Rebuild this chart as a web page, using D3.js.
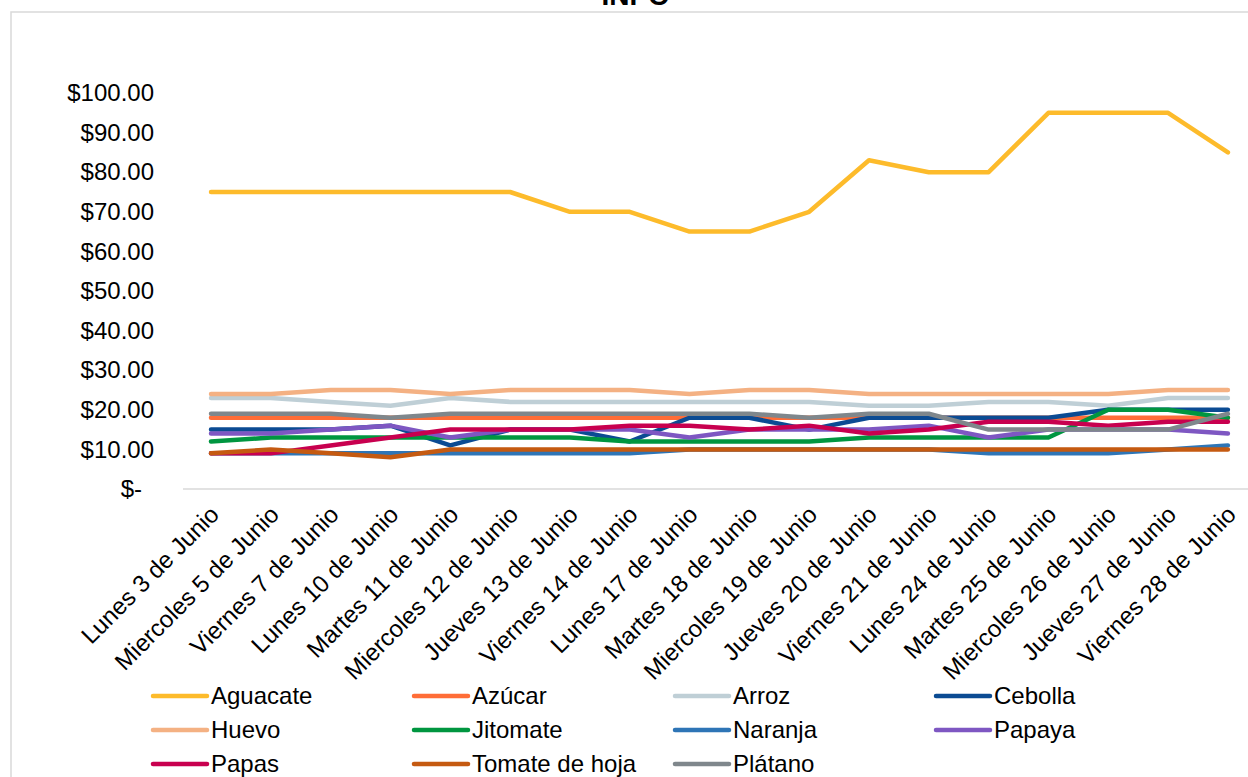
<!DOCTYPE html>
<html>
<head>
<meta charset="utf-8">
<title>INPC</title>
<script src="https://cdn.jsdelivr.net/npm/d3@7"></script>
<style>
	html, body { margin: 0; padding: 0; background: #fff; overflow: hidden; }
	svg { display: block; font-family: "Liberation Sans", Arial, sans-serif; }
</style>
</head>
<body>
<div id="chart"></div>
<script>
// categories (fechas)
var dias = ["Lunes 3 de Junio", "Miercoles 5 de Junio", "Viernes 7 de Junio", "Lunes 10 de Junio",
	"Martes 11 de Junio", "Miercoles 12 de Junio", "Jueves 13 de Junio", "Viernes 14 de Junio",
	"Lunes 17 de Junio", "Martes 18 de Junio", "Miercoles 19 de Junio", "Jueves 20 de Junio",
	"Viernes 21 de Junio", "Lunes 24 de Junio", "Martes 25 de Junio", "Miercoles 26 de Junio",
	"Jueves 27 de Junio", "Viernes 28 de Junio"];

// precios por producto
var aguacate = [75, 75, 75, 75, 75, 75, 70, 70, 65, 65, 70, 83, 80, 80, 95, 95, 95, 85];
var azucar   = [18, 18, 18, 18, 18, 18, 18, 18, 18, 18, 18, 18, 18, 18, 18, 18, 18, 18];
var arroz    = [23, 23, 22, 21, 23, 22, 22, 22, 22, 22, 22, 21, 21, 22, 22, 21, 23, 23];
var cebolla  = [15, 15, 15, 16, 11, 15, 15, 12, 18, 18, 15, 18, 18, 18, 18, 20, 20, 20];
var huevo    = [24, 24, 25, 25, 24, 25, 25, 25, 24, 25, 25, 24, 24, 24, 24, 24, 25, 25];
var jitomate = [12, 13, 13, 13, 13, 13, 13, 12, 12, 12, 12, 13, 13, 13, 13, 20, 20, 18];
var naranja  = [9, 9, 9, 9, 9, 9, 9, 9, 10, 10, 10, 10, 10, 9, 9, 9, 10, 11];
var papaya   = [14, 14, 15, 16, 13, 15, 15, 15, 13, 15, 15, 15, 16, 13, 15, 15, 15, 14];
var papas    = [9, 9, 11, 13, 15, 15, 15, 16, 16, 15, 16, 14, 15, 17, 17, 16, 17, 17];
var tomate   = [9, 10, 9, 8, 10, 10, 10, 10, 10, 10, 10, 10, 10, 10, 10, 10, 10, 10];
var platano  = [19, 19, 19, 18, 19, 19, 19, 19, 19, 19, 18, 19, 19, 15, 15, 15, 15, 19];

var nombres = ["Aguacate", "Azúcar", "Arroz", "Cebolla", "Huevo", "Jitomate", "Naranja",
	"Papaya", "Papas", "Tomate de hoja", "Plátano"];
var valores = [aguacate, azucar, arroz, cebolla, huevo, jitomate, naranja, papaya, papas, tomate, platano];
var colores = ["#fdbb2b", "#ff6d37", "#bfcfd6", "#0b4b93", "#f4b183", "#009640", "#2e75b6",
	"#7e57c2", "#c8004f", "#c55a11", "#7f878c"];

var yTicks = [0, 10, 20, 30, 40, 50, 60, 70, 80, 90, 100];

var width = 1248,
	height = 777;

var svg = d3.select("#chart").append("svg")
	.attr("width", width)
	.attr("height", height);

// chart border (runs off the right / bottom edge like the source)
svg.append("rect")
	.attr("x", 11)
	.attr("y", 12)
	.attr("width", 1250)
	.attr("height", 780)
	.attr("fill", "#fff")
	.attr("stroke", "#d9d9d9")
	.attr("stroke-width", 1.5);

// title sits mostly above the visible area, as in the source
svg.append("text")
	.attr("x", 635)
	.attr("y", 5)
	.attr("text-anchor", "middle")
	.style("font-size", "28px")
	.style("font-weight", "bold")
	.text("INPC");

var x = d3.scalePoint()
	.domain(dias)
	.range([181.1, 1257.8])
	.padding(0.5);

var y = d3.scaleLinear()
	.domain([0, 100])
	.range([489, 93]);

// y axis labels, accounting style
var yAxis = d3.axisLeft(y)
	.tickValues(yTicks)
	.tickSize(0)
	.tickPadding(29)
	.tickFormat(function(d) {
		return d === 0 ? "$-" : "$" + d3.format(".2f")(d);
	});

var gy = svg.append("g")
	.attr("transform", "translate(183,0)")
	.call(yAxis);
gy.select(".domain").remove();
gy.selectAll("text")
	.style("font-size", "24px")
	.style("font-family", "'Liberation Sans', Arial, sans-serif")
	.attr("fill", "#000")
	.attr("dx", function(d) { return d === 0 ? -12 : 0; });

// x axis
var xAxis = d3.axisBottom(x)
	.tickSize(0)
	.tickPadding(0);

var gx = svg.append("g")
	.attr("transform", "translate(0," + y(0) + ")")
	.call(xAxis);
gx.select(".domain")
	.attr("d", "M183,0H1260")
	.attr("stroke", "#d9d9d9")
	.attr("stroke-width", 1.5);
gx.selectAll("text")
	.style("font-size", "24px")
	.style("font-family", "'Liberation Sans', Arial, sans-serif")
	.attr("fill", "#000")
	.attr("text-anchor", "end")
	.attr("dy", "0.71em")
	.attr("transform", "translate(-3,15) rotate(-45)");

// series lines
var line = d3.line()
	.x(function(d, i) { return x(dias[i]); })
	.y(function(d) { return y(d); });

svg.append("g")
	.selectAll("path")
	.data(valores)
	.join("path")
	.attr("d", line)
	.attr("fill", "none")
	.attr("stroke", function(d, i) { return colores[i]; })
	.attr("stroke-width", 4.5)
	.attr("stroke-linejoin", "round")
	.attr("stroke-linecap", "round");

// legend, 4 columns
var legend = svg.append("g")
	.selectAll("g")
	.data(nombres)
	.join("g")
	.attr("transform", function(d, i) {
		return "translate(" + (151 + (i % 4) * 261) + "," + (696 + Math.floor(i / 4) * 34) + ")";
	});

legend.append("line")
	.attr("x1", 2)
	.attr("x2", 56)
	.attr("stroke", function(d, i) { return colores[i]; })
	.attr("stroke-width", 4.5)
	.attr("stroke-linecap", "round");

legend.append("text")
	.attr("x", 60)
	.attr("dy", "0.35em")
	.style("font-size", "24px")
	.text(function(d) { return d; });
</script>
</body>
</html>
